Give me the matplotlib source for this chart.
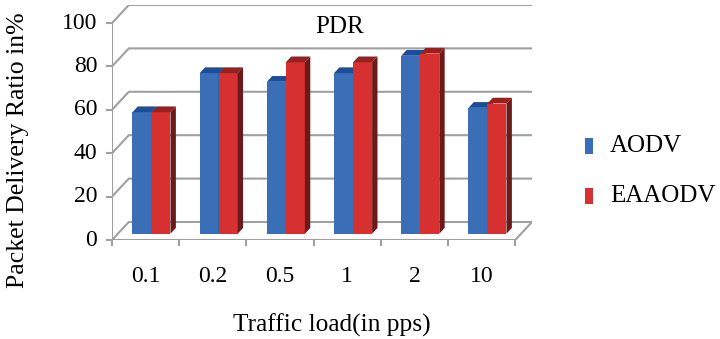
import matplotlib.pyplot as plt
from matplotlib.patches import Polygon, Rectangle
from matplotlib.transforms import ScaledTranslation

# Data
loads = ['0.1', '0.2', '0.5', '1', '2', '10']
aodv = [56, 74, 70, 74, 82, 58]
eaaodv = [56, 74, 79, 79, 83, 60]
yticks = [0, 20, 40, 60, 80, 100]

plt.rcParams['font.family'] = ['Liberation Serif', 'DejaVu Serif']

W, H = 720, 339
fig = plt.figure(figsize=(7.2, 3.39), dpi=100)
ax = fig.add_axes([112 / W, 1 - 240 / H, 420 / W, 235 / H])

# pseudo 3D depth offset (in data units)
DX, DY = 0.25, 8.3
n = len(loads)
ax.set_xlim(0, n + DX)
ax.set_ylim(0, 100 + DY)
ax.axis('off')

grid = '#a0a0a0'
# side wall + back wall gridlines
for v in yticks:
    ax.plot([0, DX, n + DX], [v, v + DY, v + DY], color=grid, lw=1.5, zorder=1)
    ax.plot([-0.07, 0], [v, v], color=grid, lw=1.5, clip_on=False, zorder=1)
# front axes and floor edge
ax.plot([0, 0], [0, 100], color=grid, lw=1.5, zorder=1)
ax.plot([0, n, n + DX], [0, 0, DY], color=grid, lw=1.5, zorder=1)
for i in range(n + 1):
    ax.plot([i, i], [0, -2.5], color=grid, lw=1.5, clip_on=False, zorder=1)

# bars
w = 0.283
f0, d = 0.35, 0.32
base = f0 * DY
series = [
    (aodv, -w, '#3a6fb7', '#1d4c98', '#24508f'),
    (eaaodv, 0, '#d63030', '#9c1f1f', '#6b1a1a'),
]
for k in range(n):
    for vals, off, front, top, side in series:
        x = k + 0.5 + off + f0 * DX
        v = vals[k]
        ax.bar(x, v, width=w, bottom=base, align='edge', color=front,
               lw=0, zorder=3)
        t = base + v
        ax.add_patch(Polygon([(x, t), (x + w, t), (x + w + d * DX, t + d * DY),
                              (x + d * DX, t + d * DY)], closed=True,
                             facecolor=top, lw=0, zorder=3))
        ax.add_patch(Polygon([(x + w, base), (x + w, t),
                              (x + w + d * DX, t + d * DY),
                              (x + w + d * DX, base + d * DY)], closed=True,
                             facecolor=side, lw=0, zorder=3))

# tick labels
for v in yticks:
    ax.text(-0.22, v, str(v), ha='right', va='center', fontsize=17)
shift = ax.transData + ScaledTranslation(0, -0.36, fig.dpi_scale_trans)
for k, lab in enumerate(loads):
    ax.text(k + 0.5, 0, lab, ha='center', va='center', fontsize=17,
            transform=shift)

fig.text(340 / W, 1 - 27 / H, 'PDR', ha='center', va='center', fontsize=18)
fig.text(332 / W, 1 - 325 / H, 'Traffic load(in pps)', ha='center',
         va='center', fontsize=18.3)
fig.text(18 / W, 1 - 150 / H, 'Packet Delivery Ratio in%', ha='center',
         va='center', rotation=90, fontsize=18.5)

# legend
for label, col, yc in [('AODV', '#3a6fb7', 146), ('EAAODV', '#d63030', 196)]:
    fig.add_artist(Rectangle((585 / W, 1 - (yc + 8) / H), 8 / W, 16 / H,
                             transform=fig.transFigure, facecolor=col, lw=0))
    fig.text(610 / W, 1 - yc / H, label, ha='left', va='center', fontsize=18)

fig.savefig('out.png', dpi=100)
